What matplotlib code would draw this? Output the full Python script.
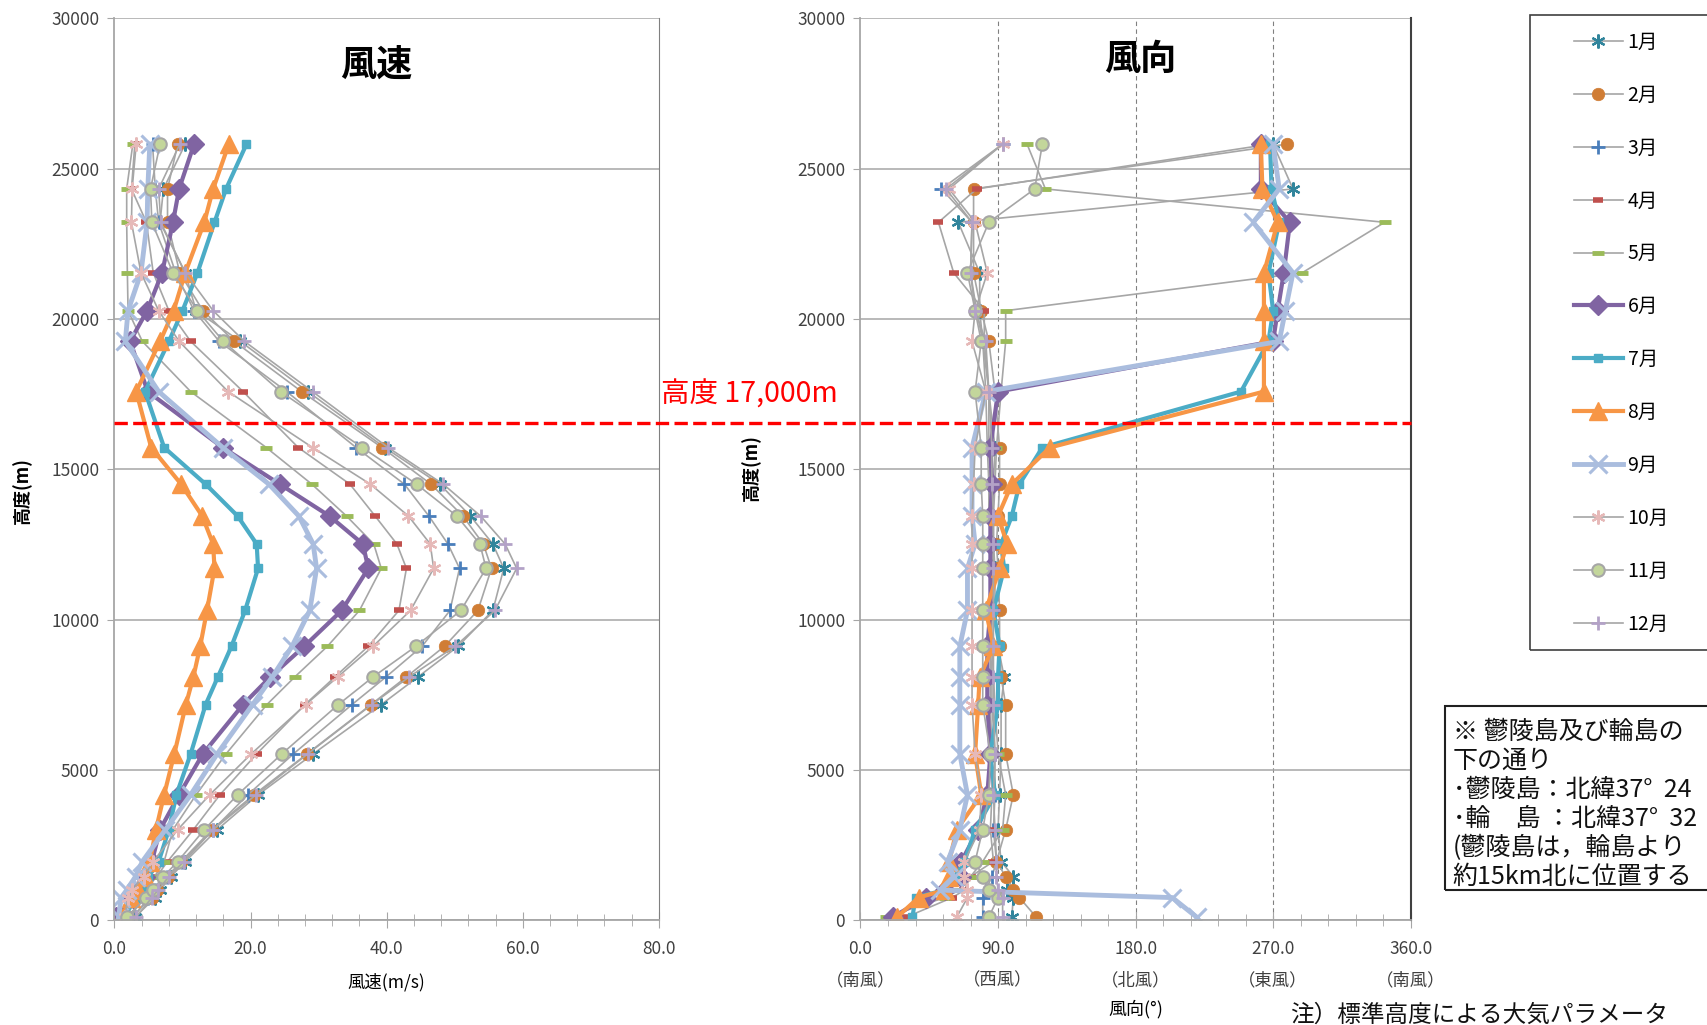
import numpy as np
import matplotlib
matplotlib.use("Agg")
import matplotlib.pyplot as plt
import matplotlib.transforms as mtransforms
from matplotlib.lines import Line2D
from matplotlib.patches import Rectangle

plt.rcParams['font.family'] = ['Noto Sans CJK JP', 'DejaVu Sans']

# standard heights (m), bottom -> top
heights = [111, 760, 1010, 1460, 1960, 3020, 4180, 5540, 7180, 8100, 9120, 10310,
           11710, 12520, 13450, 14510, 15730, 17590, 19260, 20280, 21540, 23220, 24330, 25820]

months = ['1月', '2月', '3月', '4月', '5月', '6月', '7月', '8月', '9月', '10月', '11月', '12月']

# wind speed (m/s)
speed_01 = [3.0, 6.0, 6.7, 8.3, 10.4, 15.1, 21.1, 29.2, 39.2, 44.6, 50.5, 55.6, 57.2, 55.6, 52.3, 47.8, 39.7, 28.4, 18.5, 12.0, 10.4, 6.7, 7.2, 10.4]
speed_02 = [2.5, 5.5, 6.3, 7.8, 9.8, 14.3, 20.5, 28.3, 37.7, 42.9, 48.5, 53.4, 55.4, 54.2, 51.2, 46.5, 39.3, 27.5, 17.6, 13.0, 9.6, 7.8, 7.8, 9.3]
speed_03 = [2.8, 5.0, 5.9, 7.7, 9.9, 14.5, 19.6, 26.3, 34.9, 39.9, 45.2, 49.3, 50.7, 49.0, 46.2, 42.6, 35.5, 25.3, 15.4, 11.7, 9.0, 6.5, 6.0, 5.6]
speed_04 = [2.2, 3.9, 4.6, 6.2, 7.8, 11.6, 15.5, 20.9, 28.0, 32.4, 37.3, 41.8, 42.9, 41.5, 38.3, 34.6, 27.0, 18.9, 11.2, 8.0, 5.7, 4.7, 2.5, 3.0]
speed_05 = [2.5, 4.0, 4.4, 5.9, 7.3, 8.6, 12.0, 16.4, 22.4, 26.5, 31.3, 36.0, 39.2, 38.1, 34.1, 29.0, 22.3, 11.2, 4.1, 2.0, 1.9, 1.8, 1.8, 2.7]
speed_06 = [0.3, 2.8, 3.6, 4.5, 5.5, 6.7, 9.5, 13.0, 18.9, 22.9, 27.9, 33.4, 37.3, 36.5, 31.6, 24.3, 15.9, 4.9, 2.3, 4.8, 7.0, 8.6, 9.5, 11.7]
speed_07 = [1.5, 3.1, 4.1, 5.0, 6.5, 8.0, 9.1, 11.2, 13.4, 15.2, 17.2, 19.2, 21.1, 20.9, 18.1, 13.4, 7.3, 4.5, 8.0, 10.0, 12.2, 14.7, 16.4, 19.4]
speed_08 = [1.0, 2.5, 3.4, 4.5, 5.2, 6.1, 7.3, 8.8, 10.5, 11.6, 12.6, 13.6, 14.7, 14.5, 12.9, 9.8, 5.4, 3.2, 6.7, 8.7, 10.4, 13.2, 14.5, 16.8]
speed_09 = [0.6, 1.0, 1.8, 3.1, 4.1, 7.5, 11.2, 15.1, 20.3, 23.2, 26.1, 28.7, 29.7, 29.2, 27.1, 22.7, 15.9, 6.5, 1.6, 2.0, 3.9, 4.8, 4.9, 5.2]
speed_10 = [1.5, 2.0, 2.6, 4.3, 5.7, 9.3, 14.0, 20.1, 28.1, 32.8, 38.0, 43.5, 46.9, 46.4, 43.2, 37.6, 29.1, 16.7, 9.5, 6.5, 3.9, 2.5, 2.6, 3.2]
speed_11 = [1.8, 4.7, 5.6, 7.2, 9.3, 13.2, 18.1, 24.6, 32.9, 38.0, 44.3, 50.9, 54.6, 53.7, 50.3, 44.4, 36.4, 24.4, 16.0, 12.2, 8.6, 5.5, 5.3, 6.7]
speed_12 = [3.2, 5.5, 6.4, 8.0, 10.2, 14.5, 20.8, 28.4, 37.8, 43.3, 50.1, 55.9, 59.1, 57.4, 53.8, 48.3, 40.2, 29.1, 19.1, 14.5, 10.4, 6.8, 6.5, 9.6]

# wind direction (deg)
dir_01 = [99, 100, 96, 100, 92, 90, 91, 92, 92, 94, 90, 88, 88, 87, 86, 87, 88, 84, 80, 78, 78, 64, 283, 270]
dir_02 = [115, 104, 100, 95, 89, 95, 100, 95, 95, 92, 91, 91, 90, 89, 90, 91, 91, 88, 84, 79, 74, 74, 74, 279]
dir_03 = [80, 80, 82, 86, 89, 87, 88, 88, 86, 86, 85, 85, 86, 86, 84, 84, 83, 82, 80, 76, 72, 73, 53, 93]
dir_04 = [30, 60, 68, 72, 87, 85, 86, 86, 85, 85, 85, 86, 86, 85, 85, 85, 84, 84, 81, 81, 61, 51, 76, 268]
dir_05 = [17, 55, 65, 72, 80, 93, 95, 90, 88, 87, 86, 86, 86, 87, 87, 88, 89, 92, 95, 95, 289, 343, 121, 109]
dir_06 = [21, 43, 55, 66, 66, 77, 83, 85, 83, 83, 83, 85, 85, 85, 85, 86, 85, 90, 270, 273, 277, 281, 262, 262]
dir_07 = [34, 36, 55, 62, 68, 75, 88, 85, 90, 90, 91, 87, 94, 92, 99, 104, 119, 249, 267, 270, 267, 274, 269, 268]
dir_08 = [24, 38, 55, 58, 58, 63, 79, 75, 77, 78, 87, 82, 91, 96, 90, 99, 124, 264, 264, 264, 264, 273, 263, 262]
dir_09 = [220, 204, 52, 61, 57, 65, 70, 65, 65, 65, 65, 70, 70, 75, 73, 73, 73, 82, 274, 278, 283, 257, 274, 270]
dir_10 = [63, 70, 70, 68, 68, 78, 79, 75, 73, 73, 73, 73, 73, 73, 73, 74, 75, 82, 73, 75, 83, 75, 58, 93]
dir_11 = [84, 90, 84, 80, 75, 80, 84, 85, 80, 80, 80, 80, 80, 80, 80, 79, 79, 75, 79, 75, 70, 84, 114, 119]
dir_12 = [93, 93, 90, 89, 89, 88, 87, 88, 87, 87, 87, 87, 87, 87, 87, 86, 86, 84, 82, 75, 72, 73, 56, 93]

speeds = [speed_01, speed_02, speed_03, speed_04, speed_05, speed_06,
          speed_07, speed_08, speed_09, speed_10, speed_11, speed_12]
directions = [dir_01, dir_02, dir_03, dir_04, dir_05, dir_06,
              dir_07, dir_08, dir_09, dir_10, dir_11, dir_12]

limit_height = 16560
dir_ticks = [0, 90, 180, 270, 360]
dir_names = ['（南風）', '（西風）', '（北風）', '（東風）', '（南風）']

GRAY = '#A6A6A6'
AST = (6, 2, 0)
# line color, line width, marker, marker face, marker edge, size, edge width
STYLES = [
    (GRAY, 1.2, AST, '#31859C', '#31859C', 10, 1.6),
    (GRAY, 1.2, 'o', '#D07D35', '#D07D35', 9, 0.5),
    (GRAY, 1.2, '+', '#4A7EBB', '#4A7EBB', 10, 2.0),
    (GRAY, 1.2, '_', '#C0504D', '#C0504D', 7, 4.0),
    (GRAY, 1.2, '_', '#9BBB59', '#9BBB59', 9, 3.5),
    ('#8064A2', 3.0, 'D', '#8064A2', '#8064A2', 10, 1.0),
    ('#4BACC6', 3.0, 's', '#4BACC6', '#4BACC6', 6, 1.0),
    ('#F79646', 3.0, '^', '#F79646', '#F79646', 13, 1.0),
    ('#AABDDE', 3.5, 'x', '#AABDDE', '#AABDDE', 13, 2.2),
    (GRAY, 1.2, AST, '#E6B9B8', '#E6B9B8', 10, 1.6),
    (GRAY, 1.2, 'o', '#C3D69B', GRAY, 9, 1.5),
    (GRAY, 1.2, '+', '#B3A2C7', '#B3A2C7', 10, 2.0),
]


def draw_profiles(ax, series):
    handles = []
    for name, xs, st in zip(months, series, STYLES):
        lc, lw, mk, mfc, mec, ms, mew = st
        h, = ax.plot(xs, heights, color=lc, lw=lw, marker=mk, mfc=mfc, mec=mec,
                     ms=ms, mew=mew, label=name, solid_joinstyle='round')
        handles.append(h)
    return handles


def style_axes(ax):
    ax.set_ylim(0, 30000)
    ax.set_yticks(range(0, 30001, 5000))
    ax.grid(axis='y', color=GRAY, lw=1.1)
    ax.set_axisbelow(True)
    ax.spines['top'].set_visible(False)
    for s in ['left', 'bottom']:
        ax.spines[s].set_color(GRAY)
        ax.spines[s].set_linewidth(1.3)
    ax.tick_params(axis='y', direction='out', length=5, color=GRAY, labelsize=12.5,
                   labelcolor='#404040', pad=6)
    ax.tick_params(axis='x', which='major', direction='inout', length=12, color=GRAY,
                   labelsize=12.5, labelcolor='#404040', pad=8)
    ax.tick_params(axis='x', which='minor', direction='inout', length=9, color=GRAY)


fig = plt.figure(figsize=(17.08, 10.25), dpi=100)

# ---- wind speed
ax1 = fig.add_axes([0.067, 0.102, 0.3188, 0.880])
handles = draw_profiles(ax1, speeds)
style_axes(ax1)
ax1.set_xlim(0, 80)
ax1.set_xticks(np.arange(0, 81, 20))
ax1.set_xticks(np.arange(0, 81, 4), minor=True)
ax1.set_xticklabels([f'{v:.1f}' for v in np.arange(0, 81, 20)])
ax1.spines['right'].set_color('#808080')
ax1.set_xlabel('風速(m/s)', fontsize=12.5, labelpad=11)
ax1.set_ylabel('高度(m)', fontsize=13, fontweight='bold')
ax1.yaxis.set_label_coords(-0.152, 0.477)
ax1.text(0.48, 0.948, '風速', transform=ax1.transAxes, ha='center', va='center',
         fontsize=26, fontweight='bold')

# ---- wind direction
ax2 = fig.add_axes([0.5038, 0.102, 0.3221, 0.880])
draw_profiles(ax2, directions)
style_axes(ax2)
ax2.set_xlim(0, 360)
ax2.set_xticks(dir_ticks)
ax2.set_xticks(np.arange(0, 361, 18), minor=True)
ax2.set_xticklabels([f'{v:.1f}\n{n}' for v, n in zip(dir_ticks, dir_names)], linespacing=1.95)
for v in dir_ticks[1:-1]:
    ax2.axvline(v, color='#808080', lw=0.8, ls=(0, (4, 3)), zorder=0.5)
ax2.spines['right'].set_color('#404040')
ax2.spines['right'].set_linewidth(1.5)
ax2.set_xlabel('風向(°)', fontsize=13, labelpad=8)
ax2.set_ylabel('高度(m)', fontsize=13, fontweight='bold')
ax2.yaxis.set_label_coords(-0.18, 0.502)
ax2.text(0.508, 0.955, '風向', transform=ax2.transAxes, ha='center', va='center',
         fontsize=26, fontweight='bold')

# ---- 17,000m limit line across both panels
trans = mtransforms.blended_transform_factory(fig.transFigure, ax1.transData)
fig.add_artist(Line2D([0.067, 0.8259], [limit_height, limit_height], transform=trans,
                      color='#FF0000', lw=2.4, ls=(0, (4, 1.6)), zorder=5))
fig.text(0.387, 0.6146, '高度 17,000m', color='#FF0000', fontsize=20.5,
         ha='left', va='center')

# ---- legend
fig.add_artist(Rectangle((0.8958, 0.366), 0.2, 0.6195, transform=fig.transFigure,
                         fill=False, ec='#404040', lw=1.2))
fig.legend(handles=handles, labels=months, loc='upper left',
           bbox_to_anchor=(0.9215, 0.969), frameon=False, fontsize=14,
           handlelength=2.5, handletextpad=0.26, labelspacing=1.64,
           borderpad=0, borderaxespad=0)

# ---- note box
fig.add_artist(Rectangle((0.8463, 0.1317), 0.2, 0.1795, transform=fig.transFigure,
                         fill=False, ec='#202020', lw=1.5))
note = ('※ 鬱陵島及び輪島の\n'
        '下の通り\n'
        '･鬱陵島：北緯37°  24\n'
        '･輪　島 ：北緯37°  32\n'
        '(鬱陵島は，輪島より\n'
        '約15km北に位置する')
fig.text(0.8505, 0.2985, note, fontsize=18, ha='left', va='top', linespacing=1.15,
         color='#111111')

fig.text(0.7555, 0.021, '注）標準高度による大気パラメータ', fontsize=17,
         ha='left', va='top', color='#111111')

fig.savefig('out.png', dpi=100)
